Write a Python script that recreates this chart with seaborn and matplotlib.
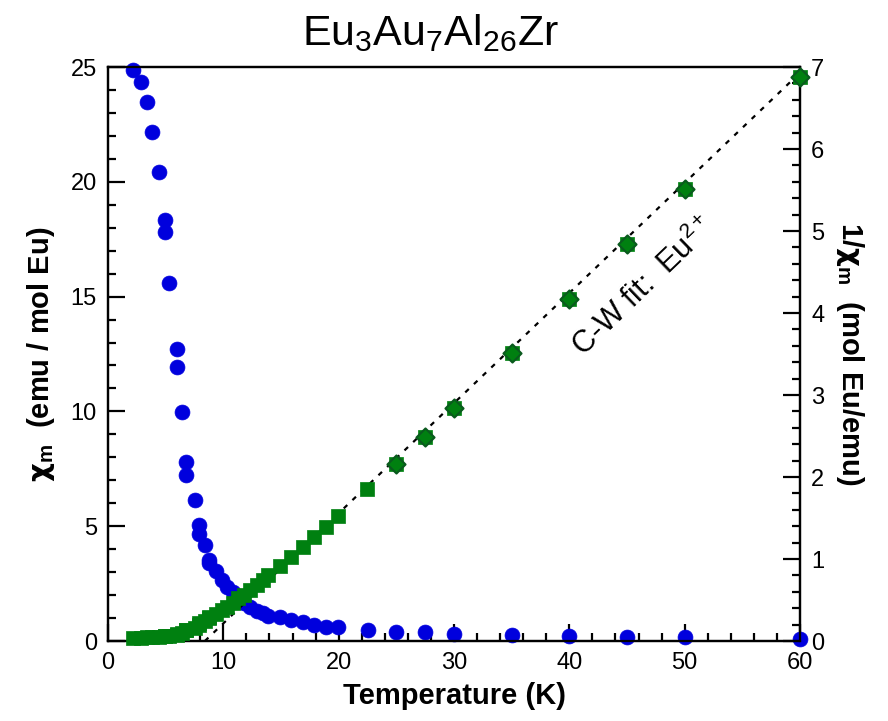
import numpy as np
import pandas as pd
import matplotlib
matplotlib.use("Agg")
import matplotlib.pyplot as plt
import seaborn as sns
from matplotlib.ticker import MultipleLocator

# ---- data ----
temperature = [2.2, 2.9, 3.4, 3.8, 4.4, 4.9, 4.9, 5.3, 6.0, 6.0, 6.4, 6.8, 6.8, 7.5, 7.9, 7.9,
               8.4, 8.8, 8.8, 9.4, 9.9, 10.3, 10.8, 11.3, 11.8, 12.3, 12.9, 13.4, 13.9, 14.9,
               15.9, 16.9, 17.9, 18.9, 19.9, 22.5, 25, 27.5, 30, 35, 40, 45, 50, 60]
chi = [24.87, 24.33, 23.46, 22.16, 20.41, 18.34, 17.80, 15.6, 12.7, 11.92, 9.96, 7.78, 7.24,
       6.14, 5.04, 4.67, 4.18, 3.53, 3.38, 3.06, 2.66, 2.37, 2.15, 1.92, 1.64, 1.47, 1.31,
       1.2, 1.09, 1.03, 0.91, 0.81, 0.70, 0.62, 0.60, 0.50, 0.40, 0.38, 0.30, 0.27, 0.20,
       0.18, 0.17, 0.08]
inv_chi = [0.040, 0.041, 0.043, 0.045, 0.049, 0.055, 0.056, 0.064, 0.079, 0.084, 0.100,
           0.129, 0.138, 0.163, 0.198, 0.214, 0.239, 0.283, 0.296, 0.327, 0.376, 0.42, 0.465,
           0.52, 0.56, 0.62, 0.68, 0.74, 0.80, 0.91, 1.03, 1.15, 1.27, 1.39, 1.52, 1.85, 2.16,
           2.49, 2.84, 3.51, 4.17, 4.84, 5.51, 6.88]
# second (diamond) measurement at high temperature
temperature_hi = [25, 27.5, 30, 35, 40, 45, 50, 60]
inv_chi_hi = [2.16, 2.49, 2.84, 3.51, 4.17, 4.84, 5.51, 6.88]
# Curie-Weiss fit line end points
fit_T = [8.4, 60]
fit_inv = [0.0, 6.93]

x_ticks = [0, 10, 20, 30, 40, 50, 60]
left_ticks = [0, 5, 10, 15, 20, 25]
right_ticks = [0, 1, 2, 3, 4, 5, 6, 7]

df = pd.DataFrame({"T": temperature, "chi": chi, "inv": inv_chi})
df_hi = pd.DataFrame({"T": temperature_hi, "inv": inv_chi_hi})
df_fit = pd.DataFrame({"T": fit_T, "inv": fit_inv})

sns.set_theme(style="ticks")
plt.rcParams["font.family"] = ["Liberation Sans", "DejaVu Sans"]
plt.rcParams["mathtext.fontset"] = "custom"
plt.rcParams["mathtext.rm"] = "Liberation Sans"
plt.rcParams["mathtext.bf"] = "Liberation Sans:bold"
plt.rcParams["mathtext.it"] = "Liberation Sans:italic"
plt.rcParams["mathtext.sf"] = "DejaVu Sans:bold"
plt.rcParams["text.color"] = "black"
plt.rcParams["axes.labelcolor"] = "black"
plt.rcParams["xtick.color"] = "black"
plt.rcParams["ytick.color"] = "black"

fig = plt.figure(figsize=(8.88, 7.21), dpi=100)
ax = fig.add_axes([108 / 888, 80 / 721, 692 / 888, 574 / 721])
ax2 = ax.twinx()

blue = "#0000dd"
green = "#008010"
dkgreen = "#0a5a1e"

sns.scatterplot(data=df, x="T", y="chi", ax=ax, color=blue, s=115, marker="o",
                edgecolor=blue, linewidth=0.5, zorder=3, clip_on=False, legend=False)
sns.lineplot(data=df_fit, x="T", y="inv", ax=ax2, color="black", lw=1.6,
             linestyle=(0, (2.2, 3.2)), zorder=2)
sns.scatterplot(data=df, x="T", y="inv", ax=ax2, color=green, s=115, marker="s",
                edgecolor=green, linewidth=0.5, zorder=3, clip_on=False, legend=False)
sns.scatterplot(data=df_hi, x="T", y="inv", ax=ax2, color=green, s=85, marker="D",
                edgecolor=dkgreen, linewidth=1.5, zorder=4, clip_on=False, legend=False)

ax.set_xlim(0, 60)
ax.set_ylim(0, 25)
ax2.set_ylim(0, 7)
ax.set_xticks(x_ticks)
ax.set_yticks(left_ticks)
ax2.set_yticks(right_ticks)
ax.xaxis.set_minor_locator(MultipleLocator(2))
ax.yaxis.set_minor_locator(MultipleLocator(1))
ax2.yaxis.set_minor_locator(MultipleLocator(0.2))

for a in (ax, ax2):
    for sp in a.spines.values():
        sp.set_linewidth(1.6)
        sp.set_color("black")
        sp.set_visible(True)
ax.tick_params(axis="both", which="major", direction="in", length=12, width=1.6,
               labelsize=17, pad=8, colors="black", top=False, right=False)
ax.tick_params(axis="both", which="minor", direction="in", length=6, width=1.6,
               top=False, right=False)
ax2.tick_params(axis="y", which="major", direction="in", length=12, width=1.6,
                labelsize=17, pad=8, colors="black")
ax2.tick_params(axis="y", which="minor", direction="in", length=6, width=1.6)

ax.set_xlabel("Temperature (K)", fontsize=21, fontweight="bold", labelpad=6)
ax.set_ylabel(r"$\mathsf{\chi}_\mathbf{m}$  (emu / mol Eu)", fontsize=21,
              fontweight="bold", labelpad=10)
ax2.set_ylabel(r"1/$\mathsf{\chi}_\mathbf{m}$  (mol Eu/emu)", fontsize=21,
               fontweight="bold", rotation=-90, labelpad=30)

ax2.text(46.5, 4.32, r"C-W fit:  Eu$^{2+}$", fontsize=22, rotation=44,
         rotation_mode="anchor", ha="center", va="center", color="black")

fig.text(430 / 888, 1 - 33 / 721, r"Eu$_3$Au$_7$Al$_{26}$Zr", fontsize=31,
         ha="center", va="center")

fig.savefig("out.png", dpi=100)
